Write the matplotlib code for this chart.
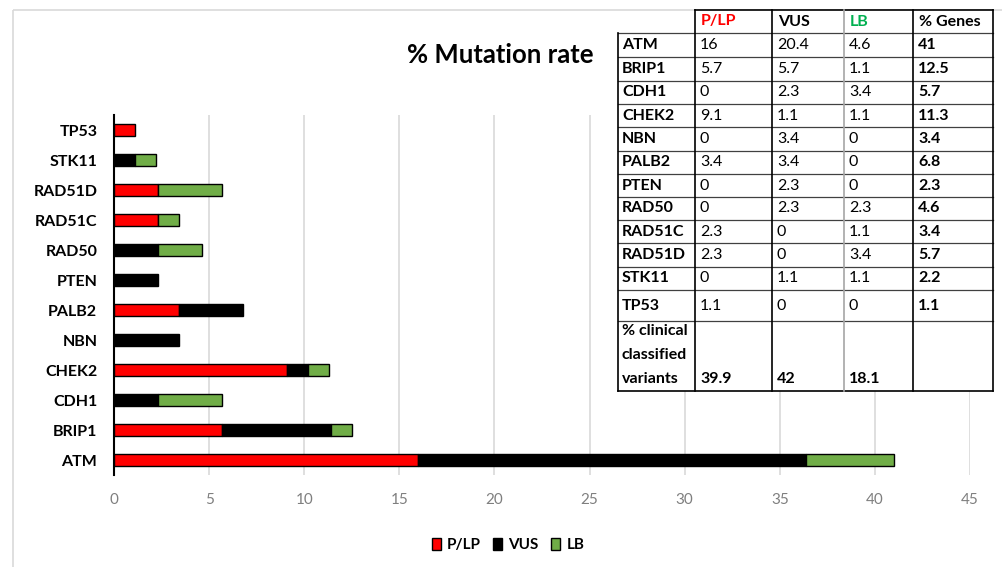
import matplotlib.pyplot as plt
from matplotlib.patches import Rectangle
import numpy as np

plt.rcParams['font.family'] = ['Lato', 'DejaVu Sans']

genes = ["ATM", "BRIP1", "CDH1", "CHEK2", "NBN", "PALB2", "PTEN",
         "RAD50", "RAD51C", "RAD51D", "STK11", "TP53"]
plp = [16, 5.7, 0, 9.1, 0, 3.4, 0, 0, 2.3, 2.3, 0, 1.1]
vus = [20.4, 5.7, 2.3, 1.1, 3.4, 3.4, 2.3, 2.3, 0, 0, 1.1, 0]
lb = [4.6, 1.1, 3.4, 1.1, 0, 0, 0, 2.3, 1.1, 3.4, 1.1, 0]
series = ["P/LP", "VUS", "LB"]
xticks = [0, 5, 10, 15, 20, 25, 30, 35, 40, 45]

W, H = 1003, 567
red, black, green = "#FF0000", "#000000", "#70AD47"

fig = plt.figure(figsize=(W / 100, H / 100), dpi=100)
ax = fig.add_axes([114 / W, 1 - 475 / H, (970 - 114) / W, (475 - 115) / H])

y = np.arange(len(genes))
plp_a, vus_a, lb_a = np.array(plp), np.array(vus), np.array(lb)
h = 0.43
for vals, left, col, name in [(plp_a, 0, red, series[0]),
                              (vus_a, plp_a, black, series[1]),
                              (lb_a, plp_a + vus_a, green, series[2])]:
    lw = [1.0 if v > 0 else 0 for v in vals]
    ax.barh(y, vals, left=left, height=h, color=col, edgecolor="black",
            linewidth=lw, label=name, zorder=3)

ax.set_xlim(0, 45)
ax.set_ylim(-0.5, len(genes) - 0.5)
ax.set_xticks(xticks)
ax.set_yticks(y, genes)
ax.grid(axis="x", color="#D9D9D9", linewidth=1.2, zorder=0)
for s in ["top", "right", "bottom"]:
    ax.spines[s].set_visible(False)
ax.spines["left"].set_linewidth(1.5)
ax.tick_params(axis="x", length=0, pad=13, labelsize=11, labelcolor="#7F7F7F")
ax.tick_params(axis="y", length=0, pad=12, labelsize=11.5)
for t in ax.get_yticklabels():
    t.set_fontweight("bold")

fig.text(500 / W, 1 - 55 / H, "% Mutation rate", ha="center", va="center",
         fontsize=18.5, fontweight="bold")

handles = [Rectangle((0, 0), 1, 1, facecolor=c, edgecolor="black", linewidth=1)
           for c in (red, black, green)]
fig.legend(handles, series, loc="center", bbox_to_anchor=(508 / W, 1 - 545 / H),
           ncol=3, frameon=False, handlelength=0.6, handleheight=0.9,
           handletextpad=0.4, columnspacing=0.8,
           prop={"weight": "bold", "size": 11})

# table overlay in pixel coordinates
ov = fig.add_axes([0, 0, 1, 1], zorder=5)
ov.set_xlim(0, W)
ov.set_ylim(H, 0)
ov.axis("off")
ov.patch.set_alpha(0)

ov.add_patch(Rectangle((13, 10), W, H, facecolor="none", edgecolor="#D9D9D9", linewidth=1.2))

rows = [10, 33, 57, 81, 104, 127, 151, 174, 197, 220, 243, 267, 290, 321, 391]
cols = [618, 695, 772, 844, 913, 993]

ov.add_patch(Rectangle((cols[0], rows[1]), cols[-1] - cols[0], rows[-1] - rows[1],
                       facecolor="white", edgecolor="none"))
ov.add_patch(Rectangle((cols[1], rows[0]), cols[-1] - cols[1], rows[1] - rows[0],
                       facecolor="white", edgecolor="none"))

for r in rows[1:-1]:
    ov.plot([cols[0], cols[-1]], [r, r], color="#404040", linewidth=0.9)
ov.plot([cols[1], cols[-1]], [rows[0], rows[0]], color="black", linewidth=1.2)
ov.plot([cols[0], cols[-1]], [rows[-1], rows[-1]], color="black", linewidth=1.2)
ov.plot([cols[0], cols[0]], [rows[1], rows[-1]], color="black", linewidth=1.2)
for c in cols[1:]:
    colr = "#A6A6A6" if c == 844 else "black"
    ov.plot([c, c], [rows[0], rows[-1]], color=colr, linewidth=1.2)

hdr_cols = [red, "black", "#00B050", "black"]
for j, (lab, cc) in enumerate(zip(series + ["% Genes"], hdr_cols)):
    ov.text(cols[j + 1] + 6, (rows[0] + rows[1]) / 2, lab, color=cc,
            fontsize=11.5, fontweight="bold", ha="left", va="center")

for i, g in enumerate(genes):
    yc = (rows[i + 1] + rows[i + 2]) / 2
    ov.text(cols[0] + 4, yc, g, fontsize=11.5, fontweight="bold", ha="left", va="center")
    vals = [plp[i], vus[i], lb[i]]
    for j, v in enumerate(vals):
        ov.text(cols[j + 1] + 5, yc, f"{v:g}", fontsize=11.5, ha="left", va="center")
    ov.text(cols[4] + 5, yc, f"{round(sum(vals), 1):g}", fontsize=11.5,
            fontweight="bold", ha="left", va="center")

for k, lab in enumerate(["% clinical", "classified", "variants"]):
    ov.text(cols[0] + 4, 331 + k * 24, lab, fontsize=11.5, fontweight="bold",
            ha="left", va="center")
for j, vals in enumerate([plp, vus, lb]):
    ov.text(cols[j + 1] + 5, 379, f"{round(sum(vals), 1):g}", fontsize=11.5,
            fontweight="bold", ha="left", va="center")

fig.savefig("out.png", dpi=100)
